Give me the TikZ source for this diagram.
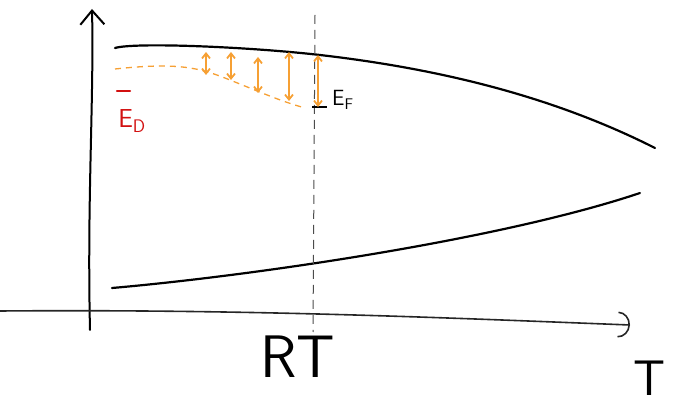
\documentclass[tikz,border=0pt]{standalone}
\usepackage{tikz}
\usetikzlibrary{arrows.meta}
\definecolor{bandorange}{RGB}{246,160,52}
\definecolor{donorred}{RGB}{210,16,16}

\tikzset{
  axisline/.style={line width=2pt, line cap=round},
  bandline/.style={line width=2.2pt, line cap=round},
  fermi/.style={bandorange, dashed, dash pattern=on 6pt off 5pt, line width=1.3pt},
  gaparrow/.style={bandorange, line width=1.8pt, {Straight Barb[length=5pt,width=8pt]}-{Straight Barb[length=5pt,width=8pt]}},
  lbl/.style={font=\sffamily, inner sep=0pt}
}

\begin{document}
\begin{tikzpicture}[x=1pt,y=-1pt]
    \useasboundingbox (0,0) rectangle (673,406);
    % axes
    \coordinate (O) at (90,330);
    \coordinate (Etop) at (92,9);
    \coordinate (Xl) at (0,311);
    \coordinate (Xr) at (630,325);
    \draw[axisline, -{Straight Barb[length=14pt,width=24pt]}] (O) .. controls (87,200) and (94,100) .. (Etop);
    \draw[axisline, line width=1.6pt, black!85, -{Arc Barb[length=12pt,width=26pt]}] (Xl) .. controls (250,309) and (450,318) .. (Xr);
    % bands
    \coordinate (cbL) at (115,48);
    \coordinate (cbM) at (320,55);
    \coordinate (cbR) at (655,148);
    \draw[bandline] (cbL) .. controls (135,42) and (250,47) .. (cbM) .. controls (450,70) and (560,100) .. (cbR);
    \coordinate (vbL) at (112,288);
    \coordinate (vbR) at (640,193);
    \draw[bandline] (vbL) .. controls (250,276) and (500,240) .. (vbR);
    % room temperature
    \coordinate (rtTop) at (315,15);
    \coordinate (rtBot) at (313,332);
    \draw[black!70, line width=1pt, dash pattern=on 9pt off 6pt] (rtTop) -- (rtBot);
    \node[lbl, font=\sffamily\fontsize{60}{60}\selectfont] (RT) at (298,357) {RT};
    \node[lbl, font=\sffamily\fontsize{50}{50}\selectfont] (T) at (650,378) {T};
    % donor level and fermi level
    \coordinate (edL) at (117,91);
    \coordinate (edR) at (130,91);
    \draw[donorred, line width=2.4pt, line cap=round] (edL) -- (edR);
    \node[lbl, donorred, font=\sffamily\fontsize{26}{26}\selectfont] (ED) at (132,121) {E\textsubscript{D}};
    \coordinate (efL) at (115,69);
    \coordinate (efR) at (305,108);
    \draw[fermi] (efL) .. controls (180,62) and (200,68) .. (230,80) .. controls (260,92) and (280,101) .. (efR);
    \coordinate (efa) at (312,107);
    \coordinate (efb) at (327,107);
    \draw[line width=1.8pt] (efa) -- (efb);
    \node[lbl, anchor=west, font=\sffamily\fontsize{22}{22}\selectfont] (EF) at (332,100) {E\textsubscript{F}};
    % gap arrows
    \foreach \x/\a/\b [count=\i] in {206/52/75, 231/52/80, 258/57/93, 289/52/101, 318/55/107} {
        \coordinate (up\i) at (\x,\a);
        \coordinate (dn\i) at (\x,\b);
        \draw[gaparrow] (up\i) -- (dn\i);
    }
\end{tikzpicture}
\end{document}
